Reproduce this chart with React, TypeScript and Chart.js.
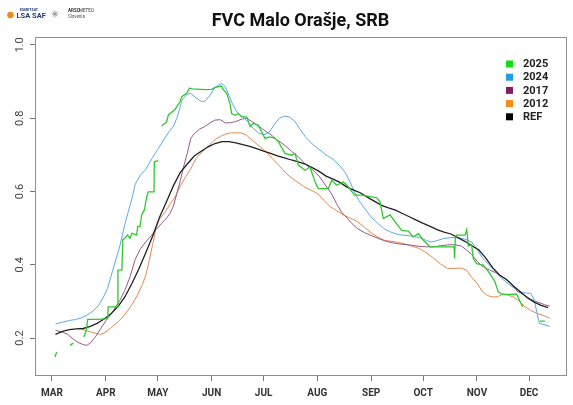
import React, { useEffect, useRef } from "react";
import { Chart, registerables } from "chart.js";

Chart.register(...registerables);

const TITLE = "FVC Malo Orašje, SRB";
const MONTH_LABELS = ["MAR", "APR", "MAY", "JUN", "JUL", "AUG", "SEP", "OCT", "NOV", "DEC"];
const MONTH_START_DOY = [60, 91, 121, 152, 182, 213, 244, 274, 305, 335];
const Y_TICKS = [0.2, 0.4, 0.6, 0.8, 1.0];
const LEGEND_LABELS = ["2025", "2024", "2017", "2012", "REF"];

const REF_DAYS = [62, 66, 70, 74, 78, 82, 86, 90, 94, 98, 102, 106, 110, 114, 118, 122, 126, 130, 134, 138, 142, 146, 150, 154, 158, 162, 166, 170, 174, 178, 182, 186, 190, 194, 198, 202, 206, 210, 214, 218, 222, 226, 230, 234, 238, 242, 246, 250, 254, 258, 262, 266, 270, 274, 278, 282, 286, 290, 294, 298, 302, 306, 310, 314, 318, 322, 326, 330, 334, 338, 342, 346];
const REF_FVC = [0.210, 0.218, 0.223, 0.225, 0.226, 0.232, 0.240, 0.252, 0.266, 0.286, 0.312, 0.348, 0.388, 0.432, 0.478, 0.530, 0.572, 0.616, 0.652, 0.675, 0.697, 0.710, 0.722, 0.731, 0.736, 0.736, 0.733, 0.728, 0.723, 0.717, 0.710, 0.704, 0.697, 0.692, 0.686, 0.681, 0.675, 0.665, 0.655, 0.642, 0.634, 0.625, 0.612, 0.604, 0.596, 0.584, 0.573, 0.562, 0.555, 0.549, 0.540, 0.531, 0.522, 0.513, 0.505, 0.496, 0.489, 0.484, 0.474, 0.464, 0.452, 0.441, 0.419, 0.392, 0.372, 0.360, 0.342, 0.326, 0.310, 0.298, 0.289, 0.283];

const Y2024_DAYS = [62, 66, 70, 73, 77, 80, 84, 87, 90, 92, 95, 99, 102, 104, 106, 108, 111, 114, 118, 121, 124, 127, 130, 132, 135, 138, 140, 143, 146, 148, 151, 154, 157, 158, 160, 162, 164, 166, 168, 170, 173, 176, 179, 182, 185, 188, 191, 194, 197, 200, 203, 206, 210, 214, 218, 222, 226, 229, 232, 234, 237, 240, 244, 248, 252, 256, 260, 264, 268, 272, 276, 279, 282, 286, 290, 294, 298, 302, 305, 308, 312, 316, 320, 324, 328, 331, 336, 338, 339.5, 341, 347];
const Y2024_FVC = [0.238, 0.243, 0.248, 0.250, 0.255, 0.262, 0.275, 0.290, 0.315, 0.335, 0.385, 0.449, 0.510, 0.545, 0.580, 0.620, 0.645, 0.660, 0.693, 0.715, 0.738, 0.760, 0.778, 0.800, 0.850, 0.866, 0.868, 0.856, 0.846, 0.846, 0.862, 0.884, 0.893, 0.895, 0.885, 0.862, 0.840, 0.822, 0.810, 0.804, 0.790, 0.772, 0.760, 0.755, 0.760, 0.782, 0.800, 0.806, 0.803, 0.792, 0.770, 0.750, 0.730, 0.715, 0.700, 0.688, 0.670, 0.652, 0.625, 0.602, 0.575, 0.555, 0.530, 0.512, 0.497, 0.488, 0.482, 0.480, 0.478, 0.474, 0.466, 0.462, 0.466, 0.472, 0.474, 0.474, 0.470, 0.462, 0.442, 0.420, 0.400, 0.378, 0.360, 0.344, 0.332, 0.324, 0.322, 0.305, 0.270, 0.240, 0.232];

const Y2017_DAYS = [62, 66, 69, 72, 75, 78, 80, 82, 85, 88, 91, 95, 99, 102, 105, 108, 111, 114, 117, 120, 123, 126, 128, 130, 132, 134, 136, 138, 140, 142, 145, 148, 151, 154, 157, 160, 163, 166, 169, 172, 175, 178, 181, 184, 187, 190, 194, 198, 202, 206, 210, 214, 218, 221, 224, 227, 230, 233, 236, 240, 244, 248, 252, 256, 260, 264, 268, 272, 276, 280, 284, 288, 292, 296, 299, 302, 305, 308, 312, 316, 320, 324, 328, 332, 336, 340, 344, 347];
const Y2017_FVC = [0.221, 0.216, 0.210, 0.198, 0.188, 0.182, 0.180, 0.186, 0.203, 0.225, 0.247, 0.272, 0.302, 0.330, 0.367, 0.415, 0.444, 0.462, 0.478, 0.496, 0.512, 0.527, 0.540, 0.560, 0.595, 0.630, 0.670, 0.705, 0.745, 0.758, 0.770, 0.777, 0.787, 0.795, 0.796, 0.787, 0.788, 0.791, 0.797, 0.800, 0.792, 0.782, 0.772, 0.762, 0.752, 0.740, 0.727, 0.710, 0.695, 0.675, 0.660, 0.642, 0.615, 0.595, 0.567, 0.543, 0.528, 0.512, 0.499, 0.488, 0.480, 0.472, 0.465, 0.460, 0.457, 0.455, 0.453, 0.450, 0.449, 0.449, 0.452, 0.454, 0.455, 0.451, 0.440, 0.428, 0.410, 0.396, 0.386, 0.378, 0.366, 0.352, 0.328, 0.318, 0.306, 0.298, 0.291, 0.287];

const Y2012_DAYS = [76, 79, 82, 85, 88, 91, 94, 98, 101, 105, 109, 112, 114, 116, 118, 120, 122, 125, 128, 131, 134, 137, 140, 143, 147, 151, 154, 157, 160, 163, 166, 169, 172, 175, 178, 181, 184, 187, 190, 193, 196, 199, 202, 205, 208, 211, 214, 217, 220, 224, 228, 232, 236, 240, 244, 248, 252, 256, 260, 264, 268, 272, 276, 280, 284, 288, 292, 296, 299, 302, 305, 308, 311, 314, 317, 320, 323, 326, 329, 332, 336, 340, 344, 347];
const Y2012_FVC = [0.226, 0.221, 0.217, 0.213, 0.210, 0.216, 0.228, 0.244, 0.258, 0.283, 0.315, 0.345, 0.370, 0.410, 0.455, 0.500, 0.525, 0.542, 0.565, 0.585, 0.615, 0.640, 0.662, 0.690, 0.710, 0.728, 0.742, 0.750, 0.757, 0.760, 0.760, 0.760, 0.754, 0.742, 0.730, 0.718, 0.706, 0.690, 0.675, 0.660, 0.645, 0.634, 0.624, 0.614, 0.606, 0.600, 0.590, 0.575, 0.560, 0.548, 0.536, 0.527, 0.518, 0.503, 0.487, 0.475, 0.466, 0.464, 0.461, 0.456, 0.450, 0.444, 0.432, 0.418, 0.402, 0.390, 0.390, 0.391, 0.385, 0.365, 0.350, 0.328, 0.316, 0.312, 0.313, 0.320, 0.317, 0.312, 0.302, 0.288, 0.275, 0.267, 0.260, 0.254];

const Y2025_DAYS = [61.7, 62.7, 63.5, 70.4, 72.3, 75, 78.4, 79.8, 80.6, 86, 92.1, 92.4, 97.6, 98.0, 100.3, 100.8, 102.5, 103.6, 105.0, 106.0, 108.8, 109.4, 110.7, 111.7, 113.2, 114.6, 115.5, 118.8, 119.0, 121.3, 122, 123.2, 126.1, 127.1, 130.9, 133.8, 134.8, 137.7, 139.2, 141, 145.3, 149, 152.1, 154.0, 157.8, 158.6, 160.7, 162.6, 163.6, 165.5, 167.4, 169.4, 172.3, 174.2, 176.1, 178.9, 182.8, 185.7, 188.6, 190.5, 194.3, 198.2, 200.1, 202, 205.9, 208.7, 211.6, 213.5, 219.3, 221.3, 224.1, 228, 230.8, 232.8, 234.7, 238.6, 243.3, 247.2, 249.1, 251, 254.9, 257.8, 261.6, 265.4, 268.3, 271.2, 274.1, 277.9, 291.8, 292.1, 292.5, 293.3, 298.1, 299.1, 300.0, 301.9, 302.9, 304.8, 308.6, 312.5, 315.4, 317.3, 319.3, 324.1, 327.9, 329.8, 331.4, 335, 341.3, 344.2];
const Y2025_FVC = [0.148, 0.162, null, 0.180, 0.186, null, 0.203, 0.222, 0.251, 0.251, 0.253, 0.285, 0.285, 0.385, 0.386, 0.468, 0.476, 0.481, 0.472, 0.486, 0.481, 0.504, 0.504, 0.536, 0.549, 0.585, 0.599, 0.599, 0.681, 0.684, null, 0.779, 0.790, 0.809, 0.824, 0.845, 0.859, 0.868, 0.882, 0.880, 0.879, 0.878, 0.879, 0.884, 0.888, 0.879, 0.868, 0.840, 0.813, 0.808, 0.813, 0.804, 0.804, 0.777, 0.786, 0.781, 0.745, 0.749, 0.745, 0.736, 0.704, 0.699, 0.704, 0.672, 0.658, 0.667, 0.627, 0.608, 0.608, 0.631, 0.617, 0.626, 0.613, 0.600, 0.590, 0.590, 0.586, 0.583, 0.572, 0.526, 0.536, 0.517, 0.494, 0.492, 0.476, 0.485, 0.467, 0.449, 0.449, 0.417, 0.472, 0.481, 0.481, 0.496, 0.451, 0.455, 0.417, 0.403, 0.399, 0.376, 0.353, 0.326, 0.319, 0.319, 0.320, 0.300, 0.285, null, 0.246, 0.246];

const X_MIN = 50.2;
const X_MAX = 356.9;
const Y_MIN = 0.0963;
const Y_MAX = 1.0218;

const toPoints = (days: number[], vals: (number | null)[]) =>
  days.map((d, i) => ({ x: d, y: vals[i] }));

const LEGEND_COLORS = ["#11e011", "#1c9fe6", "#861d62", "#ff8a12", "#000000"];

const decorPlugin = {
  id: "decor",
  afterDraw(chart: any) {
    const { ctx, chartArea: a, scales } = chart;
    ctx.save();
    // plot box
    ctx.strokeStyle = "#8f8f8f";
    ctx.lineWidth = 1;
    ctx.strokeRect(Math.round(a.left) + 0.5, Math.round(a.top) + 0.5, Math.round(a.right - a.left) - 1, Math.round(a.bottom - a.top) - 1);

    // y tick labels (rotated, R style)
    ctx.fillStyle = "#444";
    ctx.font = "11px Roboto";
    ctx.textAlign = "center";
    ctx.textBaseline = "alphabetic";
    Y_TICKS.forEach((v) => {
      const y = scales.y.getPixelForValue(v);
      ctx.save();
      ctx.translate(23, y);
      ctx.rotate(-Math.PI / 2);
      ctx.fillText(v.toFixed(1), 0, 0);
      ctx.restore();
    });

    // title
    ctx.fillStyle = "#111";
    ctx.font = "bold 18px Roboto";
    ctx.textAlign = "center";
    ctx.textBaseline = "alphabetic";
    ctx.fillText(TITLE, 300.5, 26);

    // legend
    ctx.textAlign = "left";
    ctx.textBaseline = "middle";
    ctx.font = "bold 11px Roboto";
    LEGEND_LABELS.forEach((lab, i) => {
      const cy = 64 + i * 13.2;
      ctx.fillStyle = LEGEND_COLORS[i];
      ctx.fillRect(506, cy - 3.5, 7, 7);
      ctx.fillStyle = "#222";
      ctx.fillText(lab, 523, cy + 0.5);
    });

    // logos
    ctx.fillStyle = "#f0891d";
    ctx.beginPath();
    ctx.arc(10.5, 15, 3.3, 0, Math.PI * 2);
    ctx.fill();
    ctx.fillStyle = "#1d3c78";
    ctx.font = "bold 3.5px Roboto";
    ctx.textBaseline = "alphabetic";
    ctx.fillText("EUMETSAT", 20, 11);
    ctx.font = "bold 7.5px Roboto";
    ctx.fillText("LSA SAF", 16.5, 18);
    ctx.strokeStyle = "#8a8a8a";
    ctx.lineWidth = 0.8;
    for (let k = 0; k < 4; k++) {
      const ang = (k * Math.PI) / 4;
      ctx.beginPath();
      ctx.moveTo(55 - 3.5 * Math.cos(ang), 14 - 3.5 * Math.sin(ang));
      ctx.lineTo(55 + 3.5 * Math.cos(ang), 14 + 3.5 * Math.sin(ang));
      ctx.stroke();
    }
    ctx.fillStyle = "#333";
    ctx.font = "bold 4.5px Roboto";
    ctx.fillText("ARSO", 68, 12);
    ctx.font = "4.5px Roboto";
    ctx.fillText("METEO", 79, 12);
    ctx.fillStyle = "#555";
    ctx.fillText("Slovenia", 68, 18);
    ctx.restore();
  },
};

export default function App() {
  const canvasRef = useRef<HTMLCanvasElement | null>(null);

  useEffect(() => {
    const canvas = canvasRef.current;
    if (!canvas) return;
    const lineDs = (label: string, days: number[], vals: (number | null)[], color: string, width: number, order: number) => ({
      label,
      data: toPoints(days, vals),
      borderColor: color,
      backgroundColor: color,
      borderWidth: width,
      pointRadius: 0,
      pointHoverRadius: 0,
      tension: 0,
      fill: false,
      spanGaps: false,
      order,
    });
    const chart = new Chart(canvas, {
      type: "line",
      data: {
        datasets: [
          lineDs("2025", Y2025_DAYS, Y2025_FVC, "#2fc92f", 1.3, 0),
          lineDs("REF", REF_DAYS, REF_FVC, "#222222", 1.3, 1),
          lineDs("2024", Y2024_DAYS, Y2024_FVC, "#5aa9e2", 1, 2),
          lineDs("2017", Y2017_DAYS, Y2017_FVC, "#96588a", 1, 3),
          lineDs("2012", Y2012_DAYS, Y2012_FVC, "#e8874c", 1, 4),
        ],
      },
      options: {
        animation: false,
        responsive: false,
        devicePixelRatio: 1,
        layout: { padding: { top: 37, right: 6, left: 0, bottom: 0 } },
        plugins: {
          legend: { display: false },
          title: { display: false },
          tooltip: { enabled: false },
        },
        scales: {
          x: {
            type: "linear",
            min: X_MIN,
            max: X_MAX,
            afterBuildTicks: (scale: any) => {
              scale.ticks = MONTH_START_DOY.map((v) => ({ value: v }));
            },
            afterFit: (scale: any) => {
              scale.height = 29;
            },
            grid: {
              display: true,
              drawOnChartArea: false,
              drawTicks: true,
              tickLength: 5,
              color: "#777",
              lineWidth: 1,
            },
            border: { display: false },
            ticks: {
              autoSkip: false,
              maxRotation: 0,
              minRotation: 0,
              padding: 6,
              color: "#333",
              font: { family: "Roboto", size: 10, weight: "bold" },
              callback: (v: any) => {
                const i = MONTH_START_DOY.indexOf(Number(v));
                return i >= 0 ? MONTH_LABELS[i] : "";
              },
            },
          },
          y: {
            type: "linear",
            min: Y_MIN,
            max: Y_MAX,
            afterBuildTicks: (scale: any) => {
              scale.ticks = Y_TICKS.map((v) => ({ value: v }));
            },
            afterFit: (scale: any) => {
              scale.width = 35;
            },
            grid: {
              display: true,
              drawOnChartArea: false,
              drawTicks: true,
              tickLength: 5,
              color: "#777",
              lineWidth: 1,
            },
            border: { display: false },
            ticks: { display: false },
          },
        },
      } as any,
      plugins: [decorPlugin],
    });
    return () => chart.destroy();
  }, []);

  return (
    <div style={{ position: "fixed", left: 0, top: 0, width: 573, height: 405, background: "#fff" }}>
      <canvas ref={canvasRef} width={573} height={405} style={{ display: "block", width: 573, height: 405 }} />
    </div>
  );
}
